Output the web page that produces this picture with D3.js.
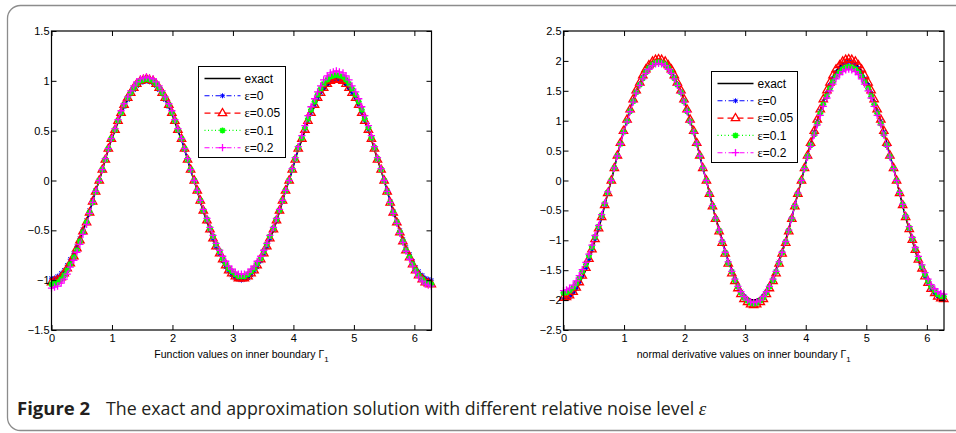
<!DOCTYPE html>
<html><head><meta charset="utf-8">
<script src="https://cdn.jsdelivr.net/npm/d3@7"></script>
<style>body{margin:0;background:#fff;} svg{display:block;}</style>
</head><body>
<svg id="c" width="956" height="433"></svg>
<script>
// ---------- DATA ----------
const theta = [0.00,0.05,0.10,0.16,0.21,0.26,0.31,0.37,0.42,0.47,0.52,0.58,0.63,0.68,0.73,0.79,0.84,0.89,0.94,0.99,
1.05,1.10,1.15,1.20,1.26,1.31,1.36,1.41,1.47,1.52,1.57,1.62,1.68,1.73,1.78,1.83,1.88,1.94,1.99,2.04,
2.09,2.15,2.20,2.25,2.30,2.36,2.41,2.46,2.51,2.57,2.62,2.67,2.72,2.78,2.83,2.88,2.93,2.98,3.04,3.09,
3.14,3.19,3.25,3.30,3.35,3.40,3.46,3.51,3.56,3.61,3.67,3.72,3.77,3.82,3.87,3.93,3.98,4.03,4.08,4.14,
4.19,4.24,4.29,4.35,4.40,4.45,4.50,4.56,4.61,4.66,4.71,4.76,4.82,4.87,4.92,4.97,5.03,5.08,5.13,5.18,
5.24,5.29,5.34,5.39,5.45,5.50,5.55,5.60,5.65,5.71,5.76,5.81,5.86,5.92,5.97,6.02,6.07,6.13,6.18,6.23,6.28];

const seriesNames = ["exact","ε=0","ε=0.05","ε=0.1","ε=0.2"];

// Left panel: function values on inner boundary
const exactF = [-1.00,-0.99,-0.98,-0.95,-0.91,-0.87,-0.81,-0.74,-0.67,-0.59,-0.50,-0.41,-0.31,-0.21,-0.10,0.00,
0.10,0.21,0.31,0.41,0.50,0.59,0.67,0.74,0.81,0.87,0.91,0.95,0.98,0.99,1.00,
0.99,0.98,0.95,0.91,0.87,0.81,0.74,0.67,0.59,0.50,0.41,0.31,0.21,0.10,0.00,
-0.10,-0.21,-0.31,-0.41,-0.50,-0.59,-0.67,-0.74,-0.81,-0.87,-0.91,-0.95,-0.98,-0.99,-1.00,
-0.99,-0.98,-0.95,-0.91,-0.87,-0.81,-0.74,-0.67,-0.59,-0.50,-0.41,-0.31,-0.21,-0.10,0.00,
0.10,0.21,0.31,0.41,0.50,0.59,0.67,0.74,0.81,0.87,0.91,0.95,0.98,0.99,1.00,
0.99,0.98,0.95,0.91,0.87,0.81,0.74,0.67,0.59,0.50,0.41,0.31,0.21,0.10,0.00,
-0.10,-0.21,-0.31,-0.41,-0.50,-0.59,-0.67,-0.74,-0.81,-0.87,-0.91,-0.95,-0.98,-0.99,-1.00];

const eps0F = [-0.98,-0.98,-0.96,-0.93,-0.90,-0.85,-0.79,-0.73,-0.66,-0.58,-0.49,-0.40,-0.30,-0.20,-0.10,0.00,
0.10,0.21,0.31,0.41,0.50,0.59,0.67,0.74,0.81,0.87,0.91,0.95,0.98,0.99,1.00,
0.99,0.98,0.95,0.91,0.87,0.81,0.74,0.67,0.59,0.50,0.41,0.31,0.21,0.10,0.00,
-0.10,-0.21,-0.31,-0.41,-0.50,-0.59,-0.67,-0.74,-0.81,-0.87,-0.91,-0.95,-0.98,-0.99,-1.00,
-0.99,-0.98,-0.95,-0.91,-0.87,-0.81,-0.74,-0.67,-0.59,-0.50,-0.41,-0.31,-0.21,-0.10,0.00,
0.11,0.21,0.32,0.42,0.51,0.60,0.68,0.76,0.83,0.88,0.93,0.97,1.00,1.01,1.02,
1.01,1.00,0.97,0.93,0.88,0.83,0.76,0.68,0.60,0.51,0.42,0.32,0.21,0.11,0.00,
-0.10,-0.21,-0.31,-0.41,-0.50,-0.59,-0.67,-0.74,-0.81,-0.87,-0.91,-0.95,-0.98,-0.99,-1.00];

const eps05F = [-1.02,-1.01,-1.00,-0.97,-0.93,-0.88,-0.83,-0.76,-0.68,-0.60,-0.51,-0.42,-0.32,-0.21,-0.11,0.00,
0.11,0.21,0.32,0.42,0.51,0.60,0.68,0.76,0.83,0.88,0.93,0.97,1.00,1.01,1.02,
1.01,1.00,0.97,0.93,0.88,0.83,0.76,0.68,0.60,0.51,0.42,0.32,0.21,0.11,0.00,
-0.10,-0.20,-0.30,-0.40,-0.49,-0.58,-0.66,-0.73,-0.79,-0.85,-0.90,-0.93,-0.96,-0.98,-0.98,
-0.98,-0.96,-0.93,-0.90,-0.85,-0.79,-0.73,-0.66,-0.58,-0.49,-0.40,-0.30,-0.20,-0.10,0.00,
0.11,0.21,0.32,0.42,0.51,0.60,0.68,0.76,0.83,0.88,0.93,0.97,1.00,1.01,1.02,
1.01,1.00,0.97,0.93,0.88,0.83,0.76,0.68,0.60,0.51,0.42,0.32,0.21,0.11,0.00,
-0.11,-0.22,-0.32,-0.42,-0.52,-0.61,-0.70,-0.77,-0.84,-0.90,-0.95,-0.99,-1.02,-1.03,-1.04];

const eps1F = [-1.04,-1.03,-1.02,-0.99,-0.95,-0.90,-0.84,-0.77,-0.70,-0.61,-0.52,-0.42,-0.32,-0.22,-0.11,0.00,
0.11,0.21,0.32,0.42,0.51,0.60,0.68,0.76,0.83,0.88,0.93,0.97,1.00,1.01,1.02,
1.01,1.00,0.97,0.93,0.88,0.83,0.76,0.68,0.60,0.51,0.42,0.32,0.21,0.11,0.00,
-0.10,-0.20,-0.30,-0.39,-0.48,-0.56,-0.64,-0.71,-0.78,-0.83,-0.88,-0.91,-0.94,-0.96,-0.96,
-0.96,-0.94,-0.91,-0.88,-0.83,-0.78,-0.71,-0.64,-0.56,-0.48,-0.39,-0.30,-0.20,-0.10,0.00,
0.11,0.22,0.33,0.43,0.53,0.62,0.71,0.79,0.86,0.92,0.97,1.01,1.04,1.05,1.06,
1.05,1.04,1.01,0.97,0.92,0.86,0.79,0.71,0.62,0.53,0.43,0.33,0.22,0.11,0.00,
-0.11,-0.22,-0.32,-0.42,-0.52,-0.61,-0.70,-0.77,-0.84,-0.90,-0.95,-0.99,-1.02,-1.03,-1.04];

const eps2F = [-1.08,-1.07,-1.06,-1.03,-0.99,-0.94,-0.87,-0.80,-0.72,-0.64,-0.54,-0.44,-0.33,-0.22,-0.11,0.00,
0.11,0.22,0.32,0.42,0.52,0.61,0.70,0.77,0.84,0.90,0.95,0.99,1.02,1.03,1.04,
1.03,1.02,0.99,0.95,0.90,0.84,0.77,0.70,0.61,0.52,0.42,0.32,0.22,0.11,0.00,
-0.10,-0.20,-0.29,-0.38,-0.47,-0.55,-0.63,-0.70,-0.76,-0.81,-0.86,-0.89,-0.92,-0.94,-0.94,
-0.94,-0.92,-0.89,-0.86,-0.81,-0.76,-0.70,-0.63,-0.55,-0.47,-0.38,-0.29,-0.20,-0.10,0.00,
0.12,0.23,0.34,0.45,0.55,0.65,0.74,0.82,0.89,0.95,1.01,1.05,1.08,1.09,1.10,
1.09,1.08,1.05,1.01,0.95,0.89,0.82,0.74,0.65,0.55,0.45,0.34,0.23,0.12,0.00,
-0.11,-0.22,-0.33,-0.43,-0.53,-0.62,-0.71,-0.79,-0.86,-0.92,-0.97,-1.01,-1.04,-1.05,-1.06];

// Right panel: normal derivative values on inner boundary
const exactD = [-2.00,-1.99,-1.96,-1.90,-1.83,-1.73,-1.62,-1.49,-1.34,-1.18,-1.00,-0.81,-0.62,-0.42,-0.21,0.00,
0.21,0.42,0.62,0.81,1.00,1.18,1.34,1.49,1.62,1.73,1.83,1.90,1.96,1.99,2.00,
1.99,1.96,1.90,1.83,1.73,1.62,1.49,1.34,1.18,1.00,0.81,0.62,0.42,0.21,0.00,
-0.21,-0.42,-0.62,-0.81,-1.00,-1.18,-1.34,-1.49,-1.62,-1.73,-1.83,-1.90,-1.96,-1.99,-2.00,
-1.99,-1.96,-1.90,-1.83,-1.73,-1.62,-1.49,-1.34,-1.18,-1.00,-0.81,-0.62,-0.42,-0.21,0.00,
0.21,0.42,0.62,0.81,1.00,1.18,1.34,1.49,1.62,1.73,1.83,1.90,1.96,1.99,2.00,
1.99,1.96,1.90,1.83,1.73,1.62,1.49,1.34,1.18,1.00,0.81,0.62,0.42,0.21,0.00,
-0.21,-0.42,-0.62,-0.81,-1.00,-1.18,-1.34,-1.49,-1.62,-1.73,-1.83,-1.90,-1.96,-1.99,-2.00];

const eps0D = [-1.98,-1.97,-1.94,-1.88,-1.81,-1.71,-1.60,-1.47,-1.32,-1.16,-0.99,-0.81,-0.61,-0.41,-0.21,0.00,
0.21,0.42,0.62,0.81,1.00,1.18,1.34,1.49,1.62,1.73,1.83,1.90,1.96,1.99,2.00,
1.99,1.96,1.90,1.83,1.73,1.62,1.49,1.34,1.18,1.00,0.81,0.62,0.42,0.21,0.00,
-0.21,-0.42,-0.63,-0.83,-1.02,-1.20,-1.36,-1.52,-1.65,-1.77,-1.86,-1.94,-2.00,-2.03,-2.04,
-2.03,-2.00,-1.94,-1.86,-1.77,-1.65,-1.52,-1.36,-1.20,-1.02,-0.83,-0.63,-0.42,-0.21,0.00,
0.21,0.41,0.61,0.81,0.99,1.16,1.32,1.47,1.60,1.71,1.81,1.88,1.94,1.97,1.98,
1.97,1.94,1.88,1.81,1.71,1.60,1.47,1.32,1.16,0.99,0.81,0.61,0.41,0.21,0.00,
-0.21,-0.41,-0.61,-0.81,-0.99,-1.16,-1.32,-1.47,-1.60,-1.71,-1.81,-1.88,-1.94,-1.97,-1.98];

const eps05D = [-1.96,-1.95,-1.92,-1.86,-1.79,-1.70,-1.59,-1.46,-1.31,-1.15,-0.98,-0.80,-0.61,-0.41,-0.21,0.00,
0.21,0.42,0.63,0.83,1.02,1.19,1.36,1.51,1.64,1.76,1.86,1.93,1.99,2.02,2.03,
2.02,1.99,1.93,1.86,1.76,1.64,1.51,1.36,1.19,1.02,0.83,0.63,0.42,0.21,0.00,
-0.22,-0.43,-0.64,-0.85,-1.04,-1.22,-1.39,-1.55,-1.68,-1.80,-1.90,-1.98,-2.03,-2.07,-2.08,
-2.07,-2.03,-1.98,-1.90,-1.80,-1.68,-1.55,-1.39,-1.22,-1.04,-0.85,-0.64,-0.43,-0.22,0.00,
0.21,0.42,0.63,0.83,1.02,1.19,1.36,1.51,1.64,1.76,1.86,1.93,1.99,2.02,2.03,
2.02,1.99,1.93,1.86,1.76,1.64,1.51,1.36,1.19,1.02,0.83,0.63,0.42,0.21,0.00,
-0.21,-0.41,-0.61,-0.81,-0.99,-1.16,-1.32,-1.47,-1.60,-1.71,-1.81,-1.88,-1.94,-1.97,-1.98];

const eps1D = [-1.88,-1.87,-1.84,-1.79,-1.72,-1.63,-1.52,-1.40,-1.26,-1.11,-0.94,-0.77,-0.58,-0.39,-0.20,0.00,
0.21,0.41,0.61,0.81,0.99,1.16,1.32,1.47,1.60,1.71,1.81,1.88,1.94,1.97,1.98,
1.97,1.94,1.88,1.81,1.71,1.60,1.47,1.32,1.16,0.99,0.81,0.61,0.41,0.21,0.00,
-0.22,-0.43,-0.64,-0.84,-1.03,-1.21,-1.38,-1.53,-1.67,-1.78,-1.88,-1.96,-2.01,-2.05,-2.06,
-2.05,-2.01,-1.96,-1.88,-1.78,-1.67,-1.53,-1.38,-1.21,-1.03,-0.84,-0.64,-0.43,-0.22,0.00,
0.20,0.40,0.59,0.77,0.95,1.12,1.27,1.41,1.54,1.65,1.74,1.81,1.86,1.89,1.90,
1.89,1.86,1.81,1.74,1.65,1.54,1.41,1.27,1.12,0.95,0.77,0.59,0.40,0.20,0.00,
-0.20,-0.40,-0.60,-0.79,-0.97,-1.14,-1.30,-1.44,-1.57,-1.68,-1.77,-1.84,-1.90,-1.93,-1.94];

const eps2D = [-1.84,-1.83,-1.80,-1.75,-1.68,-1.59,-1.49,-1.37,-1.23,-1.08,-0.92,-0.75,-0.57,-0.38,-0.19,0.00,
0.21,0.41,0.61,0.80,0.98,1.15,1.31,1.46,1.59,1.70,1.79,1.86,1.92,1.95,1.96,
1.95,1.92,1.86,1.79,1.70,1.59,1.46,1.31,1.15,0.98,0.80,0.61,0.41,0.21,0.00,
-0.21,-0.42,-0.63,-0.83,-1.02,-1.20,-1.36,-1.52,-1.65,-1.77,-1.86,-1.94,-2.00,-2.03,-2.04,
-2.03,-2.00,-1.94,-1.86,-1.77,-1.65,-1.52,-1.36,-1.20,-1.02,-0.83,-0.63,-0.42,-0.21,0.00,
0.20,0.39,0.57,0.76,0.93,1.09,1.24,1.38,1.50,1.61,1.70,1.77,1.82,1.85,1.86,
1.85,1.82,1.77,1.70,1.61,1.50,1.38,1.24,1.09,0.93,0.76,0.57,0.39,0.20,0.00,
-0.20,-0.40,-0.59,-0.77,-0.95,-1.12,-1.27,-1.41,-1.54,-1.65,-1.74,-1.81,-1.86,-1.89,-1.90];

const xDomain = [0, 6.2832];
const xTicks = [0,1,2,3,4,5,6];
const xTickLabels = ["0","1","2","3","4","5","6"];
const leftYDomain = [-1.5, 1.5];
const leftYTicks = [-1.5,-1,-0.5,0,0.5,1,1.5];
const leftYTickLabels = ["\u22121.5","\u22121","\u22120.5","0","0.5","1","1.5"];
const rightYDomain = [-2.5, 2.5];
const rightYTicks = [-2.5,-2,-1.5,-1,-0.5,0,0.5,1,1.5,2,2.5];
const rightYTickLabels = ["\u22122.5","\u22122","\u22121.5","\u22121","\u22120.5","0","0.5","1","1.5","2","2.5"];
const xAxisTitles = ["Function values on inner boundary \u0393", "normal derivative values on inner boundary \u0393"];
const captionBold = "Figure 2";
const captionText = "The exact and approximation solution with different relative noise level ";

// ---------- STYLES ----------
const styles = [
  {color:"#000000", dash:null, width:1.6, marker:null},
  {color:"#0000ff", dash:"5,2.5,1,2.5", width:1.1, marker:"star"},
  {color:"#ff0000", dash:"6,4", width:1.2, marker:"tri"},
  {color:"#00ff00", dash:"1,2.5", width:1.1, marker:"bigstar"},
  {color:"#ff00ff", dash:"5,2.5,1,2.5", width:1.1, marker:"plus"}
];
const markerPaths = {
  star: "M-2.5,0H2.5M0,-2.5V2.5M-2,-2L2,2M-2,2L2,-2",
  tri: "M0,-4.6L4.2,2.6L-4.2,2.6Z",
  bigstar: "M-3,0H3M0,-3V3M-2.2,-2.2L2.2,2.2M-2.2,2.2L2.2,-2.2",
  plus: "M-3.6,0H3.6M0,-3.6V3.6"
};
const markerStroke = {star:1.0, tri:1.3, bigstar:1.6, plus:1.3};

const svg = d3.select("#c");
const FONT = "'Liberation Sans', Arial, Helvetica, sans-serif";

// card border
svg.append("rect").attr("x",7.5).attr("y",5.5).attr("width",1100).attr("height",425)
  .attr("rx",13).attr("fill","none").attr("stroke","#8c8c8c").attr("stroke-width",1.3);

const allLeft = [exactF, eps0F, eps05F, eps1F, eps2F];
const allRight = [exactD, eps0D, eps05D, eps1D, eps2D];
[...allLeft, ...allRight].forEach((a,k)=>{ if(a.length!==theta.length) throw new Error("series "+k+" length "+a.length); });

function panel(cfg){
  const g = svg.append("g");
  const x = d3.scaleLinear(xDomain, [cfg.x0, cfg.x1]);
  const y = d3.scaleLinear(cfg.yDomain, [cfg.yb, cfg.yt]);
  const line = d3.line().x((d,i)=>x(theta[i])).y(d=>y(d));

  cfg.series.forEach((s,k)=>{
    const st = styles[k];
    const sg = g.append("g");
    sg.append("path").attr("d", line(s)).attr("fill","none").attr("stroke",st.color)
      .attr("stroke-width",st.width).attr("stroke-dasharray",st.dash);
    if(st.marker){
      sg.selectAll("path.m").data(s).join("path").attr("class","m")
        .attr("transform",(d,i)=>`translate(${x(theta[i])},${y(d)})`)
        .attr("d", markerPaths[st.marker]).attr("fill","none")
        .attr("stroke",st.color).attr("stroke-width",markerStroke[st.marker]);
    }
  });

  // box
  g.append("rect").attr("x",cfg.x0).attr("y",cfg.yt).attr("width",cfg.x1-cfg.x0).attr("height",cfg.yb-cfg.yt)
    .attr("fill","none").attr("stroke","#000").attr("stroke-width",1.2);

  const styleAxis = sel => {
    sel.select(".domain").remove();
    sel.selectAll(".tick line").attr("stroke","#000").attr("stroke-width",1);
    sel.selectAll("text").attr("font-family",FONT).attr("font-size",11).attr("fill","#000");
  };
  g.append("g").attr("transform",`translate(0,${cfg.yb})`)
    .call(d3.axisBottom(x).tickValues(xTicks).tickFormat((d,i)=>xTickLabels[i]).tickSizeInner(-5).tickSizeOuter(0).tickPadding(4))
    .call(styleAxis);
  g.append("g").attr("transform",`translate(0,${cfg.yt})`)
    .call(d3.axisTop(x).tickValues(xTicks).tickFormat("").tickSizeInner(-5).tickSizeOuter(0))
    .call(styleAxis);
  g.append("g").attr("transform",`translate(${cfg.x0},0)`)
    .call(d3.axisLeft(y).tickValues(cfg.yTicks).tickFormat((d,i)=>cfg.yLabels[i]).tickSizeInner(-5).tickSizeOuter(0).tickPadding(2))
    .call(styleAxis);
  g.append("g").attr("transform",`translate(${cfg.x1},0)`)
    .call(d3.axisRight(y).tickValues(cfg.yTicks).tickFormat("").tickSizeInner(-5).tickSizeOuter(0))
    .call(styleAxis);

  // x-axis title
  const t = g.append("text").attr("x",(cfg.x0+cfg.x1)/2 + cfg.titleShift).attr("y",cfg.yb+28)
    .attr("text-anchor","middle").attr("font-family",FONT).attr("font-size",10.5).attr("fill","#000");
  t.append("tspan").text(cfg.title);
  t.append("tspan").attr("dy",3.5).attr("font-size",8).text("1");

  // legend
  const L = cfg.legend;
  const lg = g.append("g");
  lg.append("rect").attr("x",L.x).attr("y",L.y).attr("width",L.w).attr("height",L.h)
    .attr("fill","#fff").attr("stroke","#000").attr("stroke-width",1);
  seriesNames.forEach((name,k)=>{
    const st = styles[k];
    const ry = L.y + 12 + k*17.3;
    lg.append("line").attr("x1",L.x+6).attr("x2",L.x+42).attr("y1",ry).attr("y2",ry)
      .attr("stroke",st.color).attr("stroke-width",st.width).attr("stroke-dasharray",st.dash);
    if(st.marker){
      lg.append("path").attr("transform",`translate(${L.x+24},${ry})`).attr("d",markerPaths[st.marker])
        .attr("fill","none").attr("stroke",st.color).attr("stroke-width",markerStroke[st.marker]);
    }
    const tx = lg.append("text").attr("x",L.x+46).attr("y",ry+4.3)
      .attr("font-family",FONT).attr("font-size",12).attr("fill","#000");
    if(name.startsWith("ε")){
      tx.append("tspan").attr("font-family","'Liberation Serif', serif").attr("font-size",12.5).text("ε");
      tx.append("tspan").text(name.slice(1));
    } else tx.text(name);
  });
}

panel({x0:51.5, x1:431.5, yt:31, yb:330, yDomain:leftYDomain, yTicks:leftYTicks, yLabels:leftYTickLabels,
  series:allLeft, title:xAxisTitles[0], titleShift:0, legend:{x:198.5,y:66.5,w:87,h:91}});
panel({x0:563.5, x1:944, yt:31, yb:330, yDomain:rightYDomain, yTicks:rightYTicks, yLabels:rightYTickLabels,
  series:allRight, title:xAxisTitles[1], titleShift:-10, legend:{x:711.5,y:71.5,w:86,h:91}});

// caption
const CF = "'Open Sans', 'Noto Sans', sans-serif";
const cap = svg.append("text").attr("y",415).attr("font-family",CF).attr("font-size",17.8).attr("fill","#231f20");
cap.append("tspan").attr("x",17).attr("font-weight","bold").attr("font-size",18.5).text(captionBold);
cap.append("tspan").attr("x",106).text(captionText);
cap.append("tspan").attr("font-family","'Liberation Serif', serif").attr("font-style","italic").attr("font-size",19).text("ε");
</script>
</body></html>
